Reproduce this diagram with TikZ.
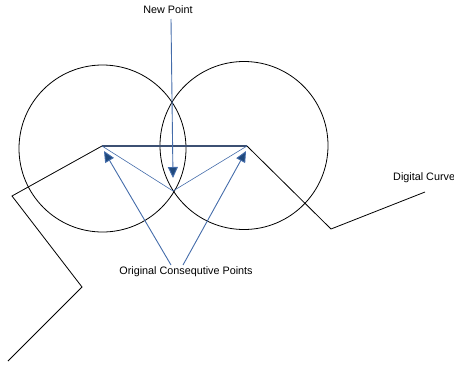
\documentclass[tikz,border=0pt]{standalone}
\usepackage{fontspec}
\setmainfont{Liberation Sans}
\usetikzlibrary{arrows.meta, positioning}
\definecolor{navy}{RGB}{31, 73, 125}
\definecolor{lightnavy}{RGB}{68, 108, 170}
\definecolor{slate}{RGB}{60, 80, 115}

\begin{document}
\begin{tikzpicture}[x=1pt, y=-1pt,
            lbl/.style={font=\fontsize{10.8}{12}\selectfont, inner sep=0pt},
            curve/.style={draw=black, line width=0.8pt},
            ring/.style={draw=black, line width=0.8pt},
            guide/.style={draw=lightnavy, line width=0.6pt},
            pointer/.style={draw=lightnavy, line width=0.9pt, -{Triangle[width=10pt, length=11pt, fill=navy]}}
        ]
            \useasboundingbox (0,0) rectangle (454,367);

            % Points
            \coordinate (c1) at (8,361);
            \coordinate (c2) at (82,287);
            \coordinate (c3) at (12,196);
            \coordinate (p1) at (102,146);
            \coordinate (p2) at (247,146);
            \coordinate (c6) at (331,229);
            \coordinate (c7) at (425,192);
            \coordinate (meet) at (173,191);

            % Circles
            \draw[ring] (102.5,148.5) circle[radius=83.5pt];
            \draw[ring] (244,145.5) circle[radius=84pt];

            % Digital curve
            \draw[curve] (c1) -- (c2) -- (c3) -- (p1);
            \draw[draw=slate, line width=1.6pt] (p1) -- (p2);
            \draw[curve] (p2) -- (c6) -- (c7);
            \draw[guide] (p1) -- (meet) -- (p2);

            % Labels
            \node[lbl] (newpt) at (168,10) {New Point};
            \node[lbl, anchor=west] (curvelbl) at (393,178) {Digital Curve};
            \node[lbl] (orig) at (186,272) {Original Consequtive Points};

            % Arrows
            \coordinate (np) at (171,19);
            \coordinate (o1) at (171,265);
            \coordinate (o2) at (183,265);
            \draw[pointer] (np) -- (173,178);
            \draw[pointer] (o1) -- (104,151);
            \draw[pointer] (o2) -- (246,151);

        \end{tikzpicture}
\end{document}
